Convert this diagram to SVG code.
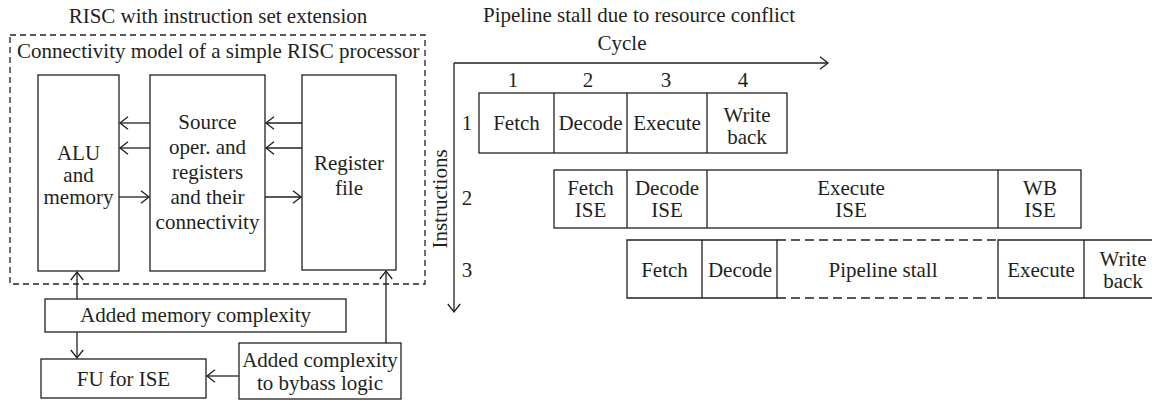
<svg xmlns="http://www.w3.org/2000/svg" width="1152" height="402" viewBox="0 0 1152 402">
  <style>
    text { font-family: "Liberation Serif", "DejaVu Serif", serif; font-size: 21px; fill: #231f20; }
    .c { text-anchor: middle; }
    .box { fill: #ffffff; stroke: #231f20; stroke-width: 1.3; }
    .dash { fill: none; stroke: #231f20; stroke-width: 1.3; stroke-dasharray: 6 4; }
    .stall { fill: none; stroke: #231f20; stroke-width: 1.3; stroke-dasharray: 9 5; }
    .ln { fill: none; stroke: #231f20; stroke-width: 1.3; }
    .arr { fill: none; stroke: #231f20; stroke-width: 1.3; marker-end: url(#chev); }
  </style>
  <defs>
    <marker id="chev" markerUnits="userSpaceOnUse" markerWidth="12" markerHeight="14" refX="9" refY="7" orient="auto">
      <path d="M1,0.8 L9,7 L1,13.2" fill="none" stroke="#231f20" stroke-width="1.3"/>
    </marker>
  </defs>

  <rect width="1152" height="402" fill="#ffffff"/>

  <!-- Left: RISC processor with ISE -->
  <text class="c" x="218" y="23">RISC with instruction set extension</text>

  <g id="risc-core">
    <rect class="dash" x="10" y="35" width="415" height="249"/>
    <text x="17" y="58">Connectivity model of a simple RISC processor</text>
  </g>

  <g id="alu-memory">
    <rect class="box" x="38" y="75" width="81" height="196"/>
    <text class="c" x="78.5" y="160">ALU</text>
    <text class="c" x="78.5" y="182">and</text>
    <text class="c" x="78.5" y="204">memory</text>
  </g>

  <g id="source-operands">
    <rect class="box" x="150" y="75" width="115" height="196"/>
    <text class="c" x="207.5" y="129">Source</text>
    <text class="c" x="207.5" y="154">oper. and</text>
    <text class="c" x="207.5" y="179">registers</text>
    <text class="c" x="207.5" y="204">and their</text>
    <text class="c" x="207.5" y="229">connectivity</text>
  </g>

  <g id="register-file">
    <rect class="box" x="302" y="75" width="94" height="195"/>
    <text class="c" x="349" y="170">Register</text>
    <text class="c" x="349" y="195">file</text>
  </g>

  <g id="added-memory">
    <rect class="box" x="45" y="299" width="301" height="33"/>
    <text class="c" x="195.5" y="322">Added memory complexity</text>
  </g>

  <g id="fu-ise">
    <rect class="box" x="41" y="359" width="165" height="39"/>
    <text class="c" x="123.5" y="386">FU for ISE</text>
  </g>

  <g id="bypass-logic">
    <rect class="box" x="239" y="343" width="162" height="56"/>
    <text class="c" x="320" y="367">Added complexity</text>
    <text class="c" x="320" y="390">to bybass logic</text>
  </g>

  <g id="connectors">
    <line class="arr" x1="150" y1="123" x2="120" y2="123"/>
    <line class="arr" x1="150" y1="148" x2="120" y2="148"/>
    <line class="arr" x1="119" y1="197" x2="149" y2="197"/>
    <line class="arr" x1="302" y1="123" x2="266" y2="123"/>
    <line class="arr" x1="302" y1="148" x2="266" y2="148"/>
    <line class="arr" x1="265" y1="197" x2="301" y2="197"/>
    <line class="arr" x1="77" y1="299" x2="77" y2="272"/>
    <line class="arr" x1="77" y1="332" x2="77" y2="358"/>
    <line class="arr" x1="239" y1="376" x2="207" y2="376"/>
    <line class="arr" x1="386" y1="343" x2="386" y2="271"/>
  </g>

  <!-- Right: pipeline chart -->
  <text class="c" x="639" y="22">Pipeline stall due to resource conflict</text>
  <text class="c" x="622" y="50">Cycle</text>

  <g id="axes">
    <line class="arr" x1="454" y1="63" x2="828" y2="63"/>
    <line class="arr" x1="454" y1="63" x2="454" y2="312"/>
    <text class="c" transform="translate(447 199) rotate(-90)">Instructions</text>
    <text class="c" x="513" y="87">1</text>
    <text class="c" x="588" y="87">2</text>
    <text class="c" x="666" y="87">3</text>
    <text class="c" x="743" y="87">4</text>
    <text class="c" x="467" y="130">1</text>
    <text class="c" x="467" y="205">2</text>
    <text class="c" x="467" y="277">3</text>
  </g>

  <g id="instr-1">
    <rect class="box" x="479" y="93" width="308" height="60"/>
    <line class="ln" x1="554" y1="93" x2="554" y2="153"/>
    <line class="ln" x1="627" y1="93" x2="627" y2="153"/>
    <line class="ln" x1="707" y1="93" x2="707" y2="153"/>
    <text class="c" x="516.5" y="130">Fetch</text>
    <text class="c" x="590.5" y="130">Decode</text>
    <text class="c" x="667" y="130">Execute</text>
    <text class="c" x="747" y="122">Write</text>
    <text class="c" x="747" y="144">back</text>
  </g>

  <g id="instr-2">
    <rect class="box" x="554" y="170" width="527" height="58"/>
    <line class="ln" x1="627" y1="170" x2="627" y2="228"/>
    <line class="ln" x1="707" y1="170" x2="707" y2="228"/>
    <line class="ln" x1="998" y1="170" x2="998" y2="228"/>
    <text class="c" x="590.5" y="195">Fetch</text>
    <text class="c" x="590.5" y="217">ISE</text>
    <text class="c" x="667" y="195">Decode</text>
    <text class="c" x="667" y="217">ISE</text>
    <text class="c" x="851" y="195">Execute</text>
    <text class="c" x="851" y="217">ISE</text>
    <text class="c" x="1040" y="195">WB</text>
    <text class="c" x="1040" y="217">ISE</text>
  </g>

  <g id="instr-3">
    <path class="ln" d="M777,240 H627 V298 H777 Z M702,240 V298"/>
    <path class="stall" d="M777,240 H998 M777,298 H998"/>
    <path class="ln" d="M1152,240 H998 V298 H1152 M1084,240 V298"/>
    <text class="c" x="664.5" y="277">Fetch</text>
    <text class="c" x="740" y="277">Decode</text>
    <text class="c" x="883" y="277">Pipeline stall</text>
    <text class="c" x="1041" y="277">Execute</text>
    <text class="c" x="1123" y="266">Write</text>
    <text class="c" x="1123" y="288">back</text>
  </g>
</svg>
